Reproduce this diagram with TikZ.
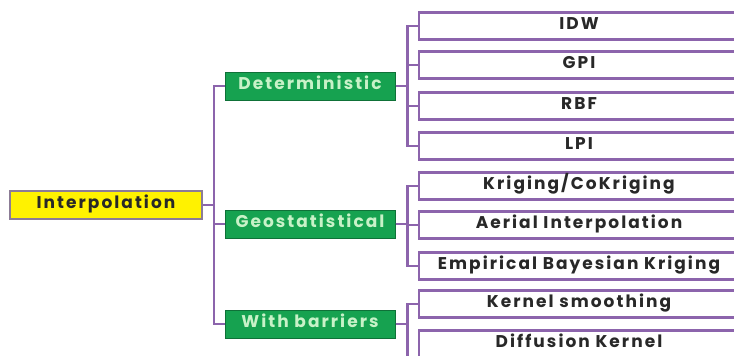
\documentclass[tikz,border=0pt]{standalone}
\usepackage{fontspec}
\newfontfamily\boxfont[LetterSpace=12]{Poppins}
\usepackage{tikz}
\usetikzlibrary{positioning}

\definecolor{linepurple}{RGB}{140,100,172}
\definecolor{rootyellow}{RGB}{255,242,0}
\definecolor{rootborder}{RGB}{140,124,150}
\definecolor{catgreen}{RGB}{22,162,80}
\definecolor{cattext}{RGB}{200,242,200}
\definecolor{leaftext}{RGB}{40,40,40}

\begin{document}
\begin{tikzpicture}[x=1pt,y=-1pt,
  root/.style={
    draw=rootborder,
    fill=rootyellow,
    line width=2pt,
    minimum width=192pt,
    minimum height=28pt,
    text height=12pt,
    text depth=6pt,
    font=\boxfont\bfseries\fontsize{17}{18}\selectfont,
    text=leaftext
  },
  cat/.style={
    draw=catgreen!70!black,
    fill=catgreen,
    line width=1pt,
    minimum width=170pt,
    minimum height=28pt,
    text height=12pt,
    text depth=6pt,
    font=\boxfont\bfseries\fontsize{17}{18}\selectfont,
    text=cattext
  },
  leaf/.style={
    draw=linepurple,
    fill=white,
    line width=2.4pt,
    minimum width=320pt,
    minimum height=27pt,
    text height=12pt,
    text depth=6pt,
    font=\boxfont\bfseries\fontsize{17}{18}\selectfont,
    text=leaftext
  },
  branch/.style={
    draw=linepurple,
    line width=2.4pt
  }]
  \useasboundingbox (0,0) rectangle (734,356);
  \clip (0,0) rectangle (734,356);

  % root and categories
  \node[root] (interp) at (106,205) {Interpolation};
  \node[cat] (det) at (310,86) {Deterministic};
  \node[cat] (geo) at (310,224) {Geostatistical};
  \node[cat] (bar) at (310,324) {With barriers};

  % methods
  \node[leaf] (idw) at (579,26) {IDW};
  \node[leaf] (gpi) at (579,65) {GPI};
  \node[leaf] (rbf) at (579,106) {RBF};
  \node[leaf] (lpi) at (579,146) {LPI};
  \node[leaf] (krig) at (579,186) {Kriging/CoKriging};
  \node[leaf] (aerial) at (579,225) {Aerial Interpolation};
  \node[leaf] (ebk) at (579,266) {Empirical Bayesian Kriging};
  \node[leaf] (kern) at (579,304) {Kernel smoothing};
  \node[leaf] (diff) at (579,344) {Diffusion Kernel};

  % connectors
  \foreach \c in {det,geo,bar}
    \draw[branch] (interp.east) -- ++(11,0) |- (\c.west);
  \foreach \m in {idw,gpi,rbf,lpi}
    \draw[branch] (det.east) -- ++(12,0) |- (\m.west);
  \foreach \m in {krig,aerial,ebk}
    \draw[branch] (geo.east) -- ++(12,0) |- (\m.west);
  \draw[branch] (bar.east) -- ++(12,0) |- (kern.west);
  \draw[branch] (bar.east) -- ++(12,0) |- (diff.south west);
\end{tikzpicture}
\end{document}
